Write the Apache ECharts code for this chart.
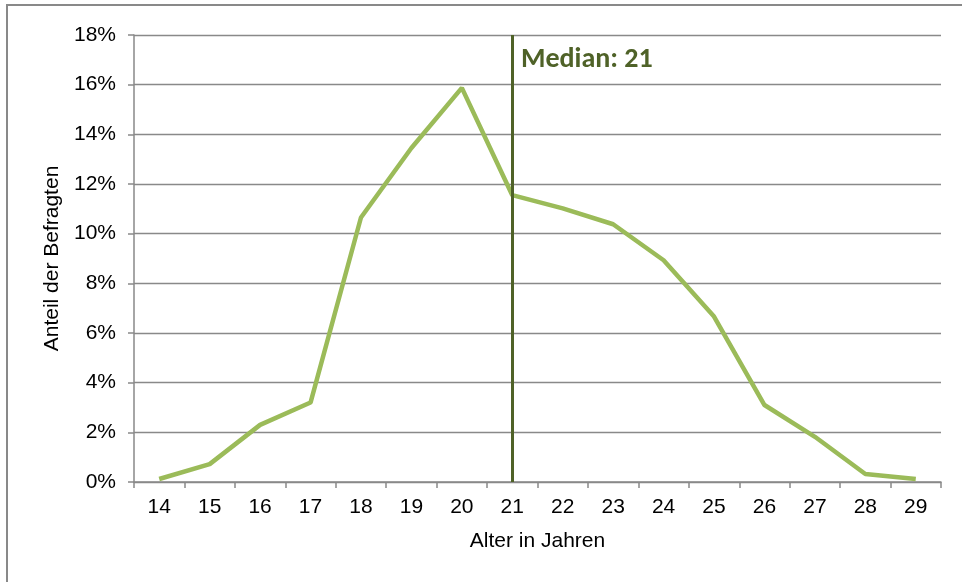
<!DOCTYPE html>
<html>
<head>
<meta charset="utf-8">
<script src="https://cdn.jsdelivr.net/npm/echarts@6/dist/echarts.min.js"></script>
<style>
  html, body { margin: 0; padding: 0; background: #fff; }
  #main { width: 962px; height: 582px; }
</style>
</head>
<body>
<div id="main"></div>
<script>
        // Altersverteilung der Befragten
        var ages = ['14','15','16','17','18','19','20','21','22','23','24','25','26','27','28','29'];
        var shares = [0.12, 0.72, 2.3, 3.2, 10.65, 13.45, 15.87, 11.55, 11.02, 10.38, 8.93, 6.66, 3.1, 1.82, 0.32, 0.12];
        var medianAge = '21';
        var medianText = 'Median: 21';

        var myChart = echarts.init(document.getElementById('main'));

        var option = {
            animation: false,
            textStyle: { fontFamily: 'Liberation Sans, Arial, sans-serif' },
            graphic: [{
                type: 'rect',
                shape: { x: 7, y: 5, width: 1000, height: 1000 },
                style: { fill: 'none', stroke: '#898989', lineWidth: 2 }
            }],
            title: {
                text: medianText,
                left: 516,
                top: 41,
                textStyle: {
                    color: '#4f6228',
                    fontSize: 28,
                    fontWeight: 'bold',
                    fontFamily: 'Carlito, Liberation Sans, Arial, sans-serif'
                }
            },
            grid: { left: 134, right: 21, top: 35, bottom: 100 },
            xAxis: {
                type: 'category',
                data: ages,
                boundaryGap: true,
                name: 'Alter in Jahren',
                nameLocation: 'middle',
                nameGap: 49,
                nameTextStyle: { fontSize: 21, color: '#000' },
                axisLine: { show: true, lineStyle: { color: '#898989', width: 1.5 } },
                axisTick: { show: true, alignWithLabel: false, length: 6, lineStyle: { color: '#898989', width: 1.5 } },
                axisLabel: { fontSize: 21, color: '#000', margin: 15 }
            },
            yAxis: {
                type: 'value',
                min: 0,
                max: 18,
                interval: 2,
                name: 'Anteil der Befragten',
                nameLocation: 'middle',
                nameGap: 66,
                nameTextStyle: { fontSize: 21, color: '#000' },
                axisLine: { show: true, lineStyle: { color: '#898989', width: 1.5 } },
                axisTick: { show: true, length: 6, lineStyle: { color: '#898989', width: 1.5 } },
                axisLabel: { fontSize: 21, color: '#000', margin: 18, formatter: '{value}%' },
                splitLine: { lineStyle: { color: '#898989', width: 1.3 } }
            },
            series: [{
                type: 'line',
                data: shares,
                symbol: 'none',
                lineStyle: { color: '#9bbb59', width: 4.5 },
                markLine: {
                    silent: true,
                    symbol: 'none',
                    label: { show: false },
                    lineStyle: { color: '#4f6228', width: 3, type: 'solid' },
                    data: [{ xAxis: medianAge }]
                }
            }]
        };

        myChart.setOption(option);
</script>
</body>
</html>
